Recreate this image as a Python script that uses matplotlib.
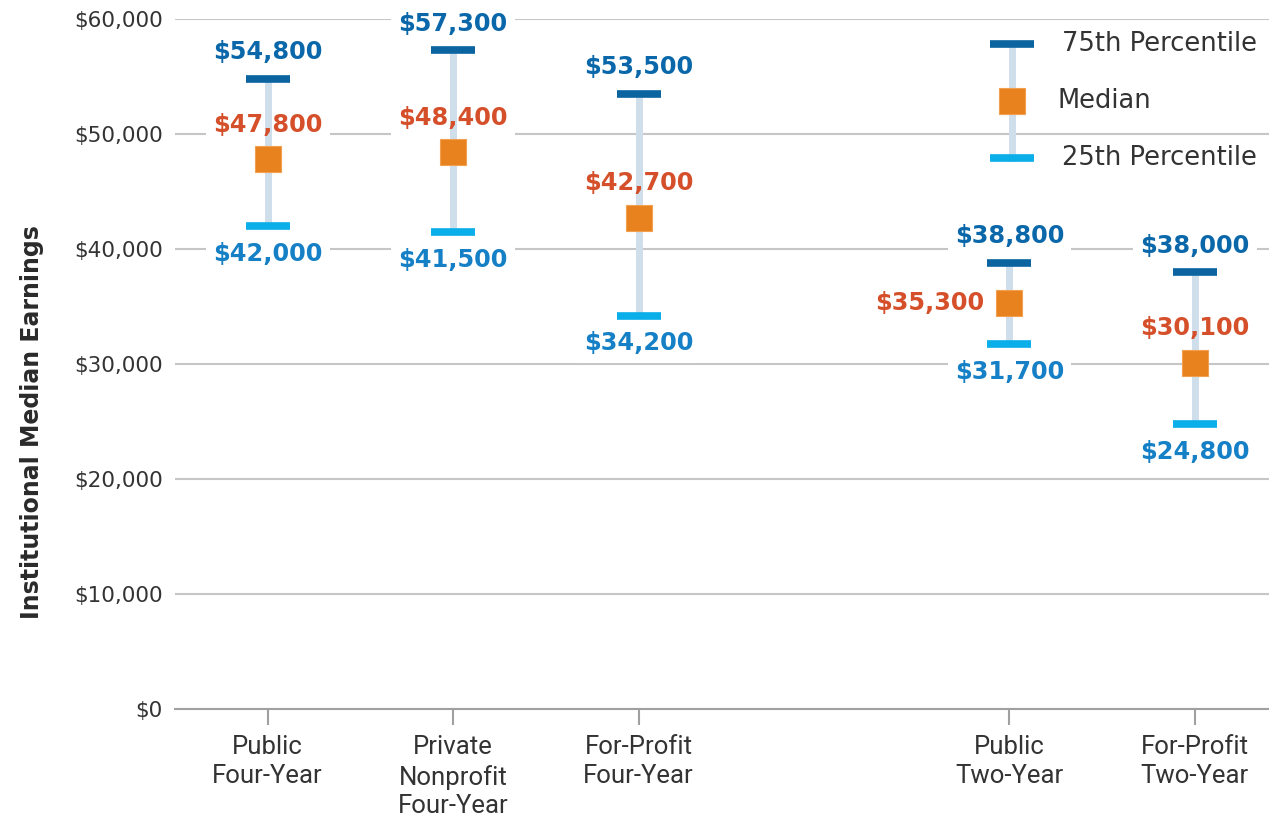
import matplotlib
matplotlib.use("Agg")
import matplotlib.pyplot as plt
from matplotlib.lines import Line2D

plt.rcParams['font.family'] = ['DejaVu Sans']

categories = ["Public\nFour-Year", "Private\nNonprofit\nFour-Year", "For-Profit\nFour-Year",
              "Public\nTwo-Year", "For-Profit\nTwo-Year"]
positions = [0, 1, 2, 4, 5]
p75 = [54800, 57300, 53500, 38800, 38000]
median = [47800, 48400, 42700, 35300, 30100]
p25 = [42000, 41500, 34200, 31700, 24800]
median_label_side = ["top", "top", "top", "left", "top"]
yticks = [0, 10000, 20000, 30000, 40000, 50000, 60000]

C75 = "#0b64a0"
C25 = "#0aaee8"
CMED = "#e8821e"
CBAR = "#cfdeeb"
T75 = "#0a68aa"
T25 = "#1580c6"
TMED = "#d5502a"
GRID = "#c6c6c6"
TXT = "#333333"

fig = plt.figure(figsize=(12.69, 8.19), dpi=100)
ax = fig.add_axes([175/1269, 1-709/819, 1-175/1269, 690/819])
ax.set_xlim(-0.5, 5.4)
ax.set_ylim(0, 60000)

ax.set_yticks(yticks)
ax.set_yticklabels([f"${v:,}" for v in yticks])
ax.yaxis.grid(True, color=GRID, linewidth=1.5, zorder=0)
ax.set_axisbelow(True)
ax.tick_params(axis='y', length=0, pad=9, labelsize=15.5, labelcolor=TXT)
ax.set_xticks(positions)
ax.set_xticklabels(categories, linespacing=1.26, fontfamily="Roboto")
ax.tick_params(axis='x', length=11.5, width=1.5, color="#a0a0a0", pad=7.5, labelsize=18.5, labelcolor=TXT)
for s in ["top", "right", "left"]:
    ax.spines[s].set_visible(False)
ax.spines["bottom"].set_color("#a0a0a0")
ax.spines["bottom"].set_linewidth(1.5)

ax.set_ylabel("Institutional Median Earnings", fontsize=17, fontweight="bold", color="#2a2a2a")
ax.yaxis.set_label_coords(-(175-44)/1094, (709-422)/690)


def label(x, y, s, dx, dy, ha, color):
    # white knock-out box beneath the bar, text above it
    ax.annotate(s, (x, y), xytext=(dx, dy), textcoords="offset points", ha=ha, va="center",
                fontsize=17.3, fontweight="bold", color=(1, 1, 1, 0),
                bbox=dict(boxstyle="square,pad=0.3", fc="white", ec="none"),
                zorder=1.5, annotation_clip=False)
    ax.annotate(s, (x, y), xytext=(dx, dy), textcoords="offset points", ha=ha, va="center",
                fontsize=17.3, fontweight="bold", color=color, zorder=6, annotation_clip=False)


for x, hi, md, lo, side in zip(positions, p75, median, p25, median_label_side):
    ax.vlines(x, lo, hi, color=CBAR, linewidth=5, zorder=2)
    ax.plot([x], [hi], marker="_", markersize=32, markeredgewidth=5.5, color=C75, zorder=3, clip_on=False)
    ax.plot([x], [lo], marker="_", markersize=32, markeredgewidth=5.5, color=C25, zorder=3, clip_on=False)
    ax.plot([x], [md], marker="s", markersize=18.5, color=CMED, markeredgecolor="#f0a050",
            markeredgewidth=0.8, zorder=4, clip_on=False)
    label(x, hi, f"${hi:,}", 0, 19, "center", T75)
    label(x, lo, f"${lo:,}", 0, -20, "center", T25)
    if side == "top":
        label(x, md, f"${md:,}", 0, 25, "center", TMED)
    else:
        label(x, md, f"${md:,}", -18, 0, "right", TMED)

# custom legend (axes fraction)
lx = (1012-175)/1094
y75, ymd, y25 = (709-44)/690, (709-101)/690, (709-158)/690
tr = ax.transAxes
ax.add_line(Line2D([lx, lx], [y25, y75], transform=tr, color=CBAR, linewidth=5, zorder=6))
ax.add_line(Line2D([lx], [y75], transform=tr, marker="_", markersize=32, markeredgewidth=5.5, color=C75, zorder=7))
ax.add_line(Line2D([lx], [y25], transform=tr, marker="_", markersize=32, markeredgewidth=5.5, color=C25, zorder=7))
ax.add_line(Line2D([lx], [ymd], transform=tr, marker="s", markersize=18.5, color=CMED,
                   markeredgecolor="#f0a050", markeredgewidth=0.8, zorder=7))
tx = (1062-175)/1094
ax.text(tx, y75, "75th Percentile", transform=tr, fontsize=18.5, va="center", ha="left", color=TXT)
ax.text((1058-175)/1094, ymd, "Median", transform=tr, fontsize=18.5, va="center", ha="left", color=TXT)
ax.text(tx, y25, "25th Percentile", transform=tr, fontsize=18.5, va="center", ha="left", color=TXT)

fig.savefig("out.png", dpi=100)
